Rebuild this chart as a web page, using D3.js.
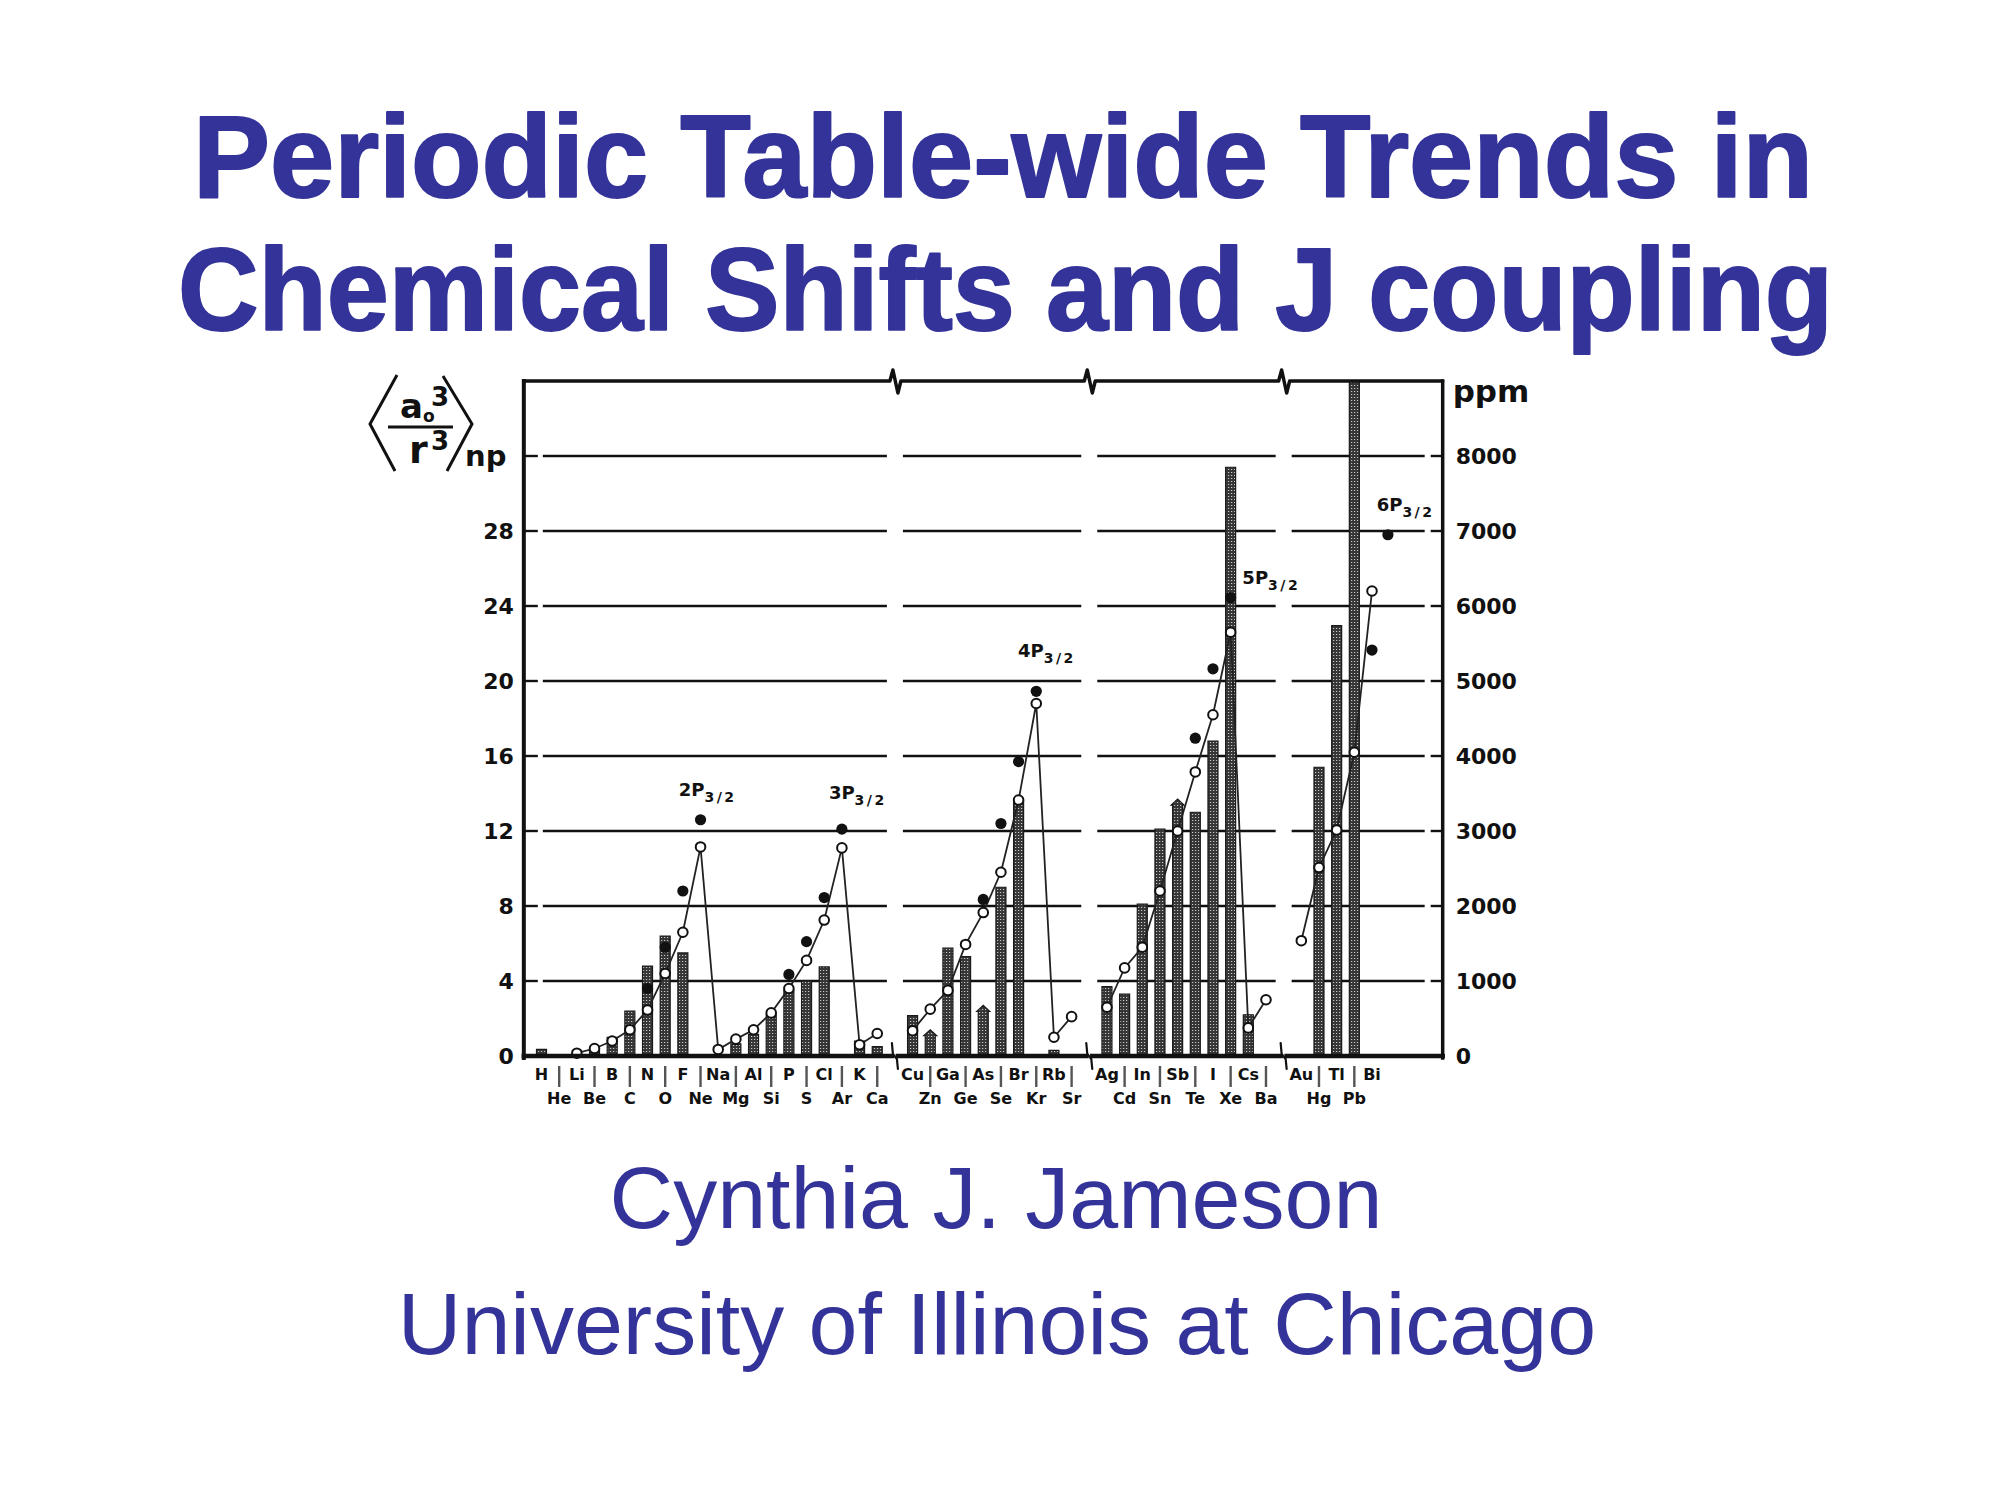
<!DOCTYPE html>
<html><head><meta charset="utf-8">
<script src="https://cdn.jsdelivr.net/npm/d3@7"></script>
<style>body{margin:0;background:#fff;overflow:hidden}</style>
</head><body>
<svg id="c" width="1995" height="1495"></svg>
<script>
// ---------------- data ----------------
const elements = ["H","He","Li","Be","B","C","N","O","F","Ne","Na","Mg","Al","Si","P","S","Cl","Ar","K","Ca",
  "Cu","Zn","Ga","Ge","As","Se","Br","Kr","Rb","Sr",
  "Ag","Cd","In","Sn","Sb","Te","I","Xe","Cs","Ba",
  "Au","Hg","Tl","Pb","Bi"];
const groupStarts = ["H","Cu","Ag","Au"];
// hatched bars (ppm / 250 = left-axis units), null = none
const barValues = [0.35,null,null,0.3,1.0,2.4,4.8,6.4,5.5,null,null,0.65,1.15,2.2,3.5,4.0,4.75,null,0.8,0.5,
  2.15,1.4,5.75,5.3,2.7,9.0,13.6,null,0.3,null,
  3.7,3.3,8.1,12.1,13.7,13.0,16.8,31.4,2.2,null,
  null,15.4,22.95,40,null];
const arrowBars = ["Zn","As","Sb"];
// open circles joined by lines
const openValues = [null,null,0.15,0.4,0.8,1.4,2.45,4.4,6.6,11.15,0.35,0.9,1.4,2.3,3.6,5.1,7.25,11.1,0.6,1.2,
  1.35,2.5,3.5,5.95,7.65,9.8,13.65,18.8,1.0,2.1,
  2.6,4.7,5.8,8.8,12.0,15.15,18.2,22.6,1.5,3.0,
  6.15,10.05,12.05,16.2,24.8];
// filled dots
const filledValues = [null,null,null,null,null,null,3.6,5.8,8.8,12.6,null,null,null,null,4.35,6.1,8.45,12.1,null,null,
  null,null,null,null,8.35,12.4,15.7,19.45,null,null,
  null,null,null,null,null,16.95,20.65,24.45,null,null,
  null,null,null,null,21.65];
const extraFilled = [{after:"Bi", dSlot:0.9, value:27.8}];
const pLabels = [
  {shell:"2", at:"Ne", dSlot:0.4, value:13.85},
  {shell:"3", at:"Ar", dSlot:0.9, value:13.7},
  {shell:"4", at:"Kr", dSlot:0.6, value:21.3},
  {shell:"5", at:"Xe", dSlot:2.3, value:25.2},
  {shell:"6", at:"Bi", dSlot:1.9, value:29.05}
];
const leftTicks = [0,4,8,12,16,20,24,28];
const gridValues = [4,8,12,16,20,24,28,32];
const ppmTicks = [0,1000,2000,3000,4000,5000,6000,7000,8000];

// ------------- layout ----------------
const svg = d3.select("#c");
const blue = "#333399";

const slots = [];
const breakSlots = [];
let s = -1;
elements.forEach((e,i)=>{
  if (groupStarts.includes(e) && i>0){ s += 1; breakSlots.push(s); }
  s += 1; slots.push(s);
});
const slotOf = e => slots[elements.indexOf(e)];
const x = d3.scaleLinear().domain([0,47]).range([541.5,1372]);
const y = d3.scaleLinear().domain([0,36]).range([1056,381]);
const yppm = d3.scaleLinear().domain([0,9000]).range([1056,381]);
const xL = x(-1), xR = x(51), yT = y(36), yB = y(0);

// title
const titleFont = "'Comic Sans MS','Liberation Sans',Arial,sans-serif";
svg.append("text").attr("x",193).attr("y",197)
  .attr("textLength",1620).attr("lengthAdjust","spacingAndGlyphs")
  .style("font-family",titleFont).style("font-weight","bold")
  .style("font-size","116px").attr("fill",blue).attr("stroke",blue).attr("stroke-width",2).attr("stroke-linejoin","round")
  .text("Periodic Table-wide Trends in");
svg.append("text").attr("x",178).attr("y",330)
  .attr("textLength",1655).attr("lengthAdjust","spacingAndGlyphs")
  .style("font-family",titleFont).style("font-weight","bold")
  .style("font-size","116px").attr("fill",blue).attr("stroke",blue).attr("stroke-width",2).attr("stroke-linejoin","round")
  .text("Chemical Shifts and J coupling");
svg.append("text").attr("x",996).attr("y",1228).attr("text-anchor","middle")
  .style("font-family","'Liberation Sans',Arial,sans-serif").style("font-size","88px").attr("fill",blue)
  .text("Cynthia J. Jameson");
svg.append("text").attr("x",997).attr("y",1354).attr("text-anchor","middle")
  .style("font-family","'Liberation Sans',Arial,sans-serif").style("font-size","88px").attr("fill",blue)
  .text("University of Illinois at Chicago");

// pattern for stippled bars
const defs = svg.append("defs");
const pat = defs.append("pattern").attr("id","stip").attr("patternUnits","userSpaceOnUse")
  .attr("width",3).attr("height",3);
pat.append("rect").attr("width",3).attr("height",3).attr("fill","#363636");
pat.append("rect").attr("x",1).attr("y",1).attr("width",1.2).attr("height",1).attr("fill","#c8c8c8");
defs.append("clipPath").attr("id","plotclip").append("rect")
  .attr("x",xL).attr("y",yT).attr("width",xR-xL).attr("height",yB-yT);

const chartFont = "'DejaVu Sans',Verdana,sans-serif";

// gridlines with gaps at breaks and near axes
const g = svg.append("g");
const cuts = [[xL+14,xL+19]].concat(breakSlots.map(b=>[x(b)-8,x(b)+8])).concat([[xR-18,xR-12]]);
gridValues.forEach(v=>{
  let start = xL;
  const segs = [];
  cuts.forEach(c=>{ segs.push([start,c[0]]); start=c[1]; });
  segs.push([start,xR]);
  segs.forEach(sg=>{
    g.append("line").attr("x1",sg[0]).attr("x2",sg[1]).attr("y1",y(v)).attr("y2",y(v))
      .attr("stroke","#111").attr("stroke-width",2.4);
  });
});

// bars
const bw = 10;
const barData = elements.map((e,i)=>({e, slot:slots[i], v:barValues[i]})).filter(d=>d.v!==null);
const barG = svg.append("g").attr("clip-path","url(#plotclip)");
barG.selectAll("path.bar").data(barData).enter().append("path")
  .attr("d", d=>{
    const cx = x(d.slot), top = y(d.v), bot = y(0);
    if (arrowBars.includes(d.e)){
      const ah = 6;
      return `M${cx-bw/2},${bot}L${cx-bw/2},${top+ah}L${cx-bw/2-1.5},${top+ah}L${cx},${top}L${cx+bw/2+1.5},${top+ah}L${cx+bw/2},${top+ah}L${cx+bw/2},${bot}Z`;
    }
    return `M${cx-bw/2},${bot}L${cx-bw/2},${top}L${cx+bw/2},${top}L${cx+bw/2},${bot}Z`;
  })
  .attr("fill","url(#stip)").attr("stroke","#1a1a1a").attr("stroke-width",1.2);

// open circle lines per group
const grpIdx = groupStarts.map(gs=>elements.indexOf(gs));
const openData = elements.map((e,i)=>({e, slot:slots[i], v:openValues[i], grp:d3.bisectRight(grpIdx, i)-1}))
  .filter(d=>d.v!==null);
const line = d3.line().x(d=>x(d.slot)).y(d=>y(d.v));
d3.groups(openData, d=>d.grp).forEach(([k,arr])=>{
  svg.append("path").attr("d",line(arr)).attr("fill","none").attr("stroke","#222").attr("stroke-width",1.8);
});
svg.selectAll("circle.open").data(openData).enter().append("circle")
  .attr("cx",d=>x(d.slot)).attr("cy",d=>y(d.v)).attr("r",4.8)
  .attr("fill","#fff").attr("stroke","#111").attr("stroke-width",2);

// filled dots
const filledData = elements.map((e,i)=>({slot:slots[i], v:filledValues[i]})).filter(d=>d.v!==null)
  .concat(extraFilled.map(d=>({slot:slotOf(d.after)+d.dSlot, v:d.value})));
svg.selectAll("circle.fill").data(filledData).enter().append("circle")
  .attr("cx",d=>x(d.slot)).attr("cy",d=>y(d.v)).attr("r",5.6).attr("fill","#111");

// frame
const fr = svg.append("g").attr("stroke","#111").attr("fill","none").attr("stroke-linecap","square");
fr.append("line").attr("x1",xL).attr("x2",xL).attr("y1",yT).attr("y2",yB+2).attr("stroke-width",4);
fr.append("line").attr("x1",xR).attr("x2",xR).attr("y1",yT).attr("y2",yB+2).attr("stroke-width",3.5);
let tp = `M${xL},${yT}`;
breakSlots.forEach(b=>{
  const bx = x(b);
  tp += `L${bx-5},${yT}L${bx-2},${yT-11}L${bx+3},${yT+12}L${bx+6},${yT}`;
});
tp += `L${xR},${yT}`;
fr.append("path").attr("d",tp).attr("stroke-width",3.5).attr("stroke-linejoin","round").attr("stroke-linecap","round");
let bstart = xL;
breakSlots.forEach(b=>{
  const bx = x(b);
  fr.append("line").attr("x1",bstart).attr("x2",bx-3).attr("y1",yB).attr("y2",yB).attr("stroke-width",4.5);
  fr.append("path").attr("d",`M${bx-3},${yB-13}L${bx-2},${yB-2}L${bx+2},${yB+3}L${bx+3},${yB+13}`)
    .attr("stroke-width",2.2).attr("stroke-linecap","round");
  bstart = bx+3;
});
fr.append("line").attr("x1",bstart).attr("x2",xR).attr("y1",yB).attr("y2",yB).attr("stroke-width",4.5);

// left axis labels
svg.selectAll("text.lt").data(leftTicks).enter().append("text")
  .attr("x",xL-10).attr("y",d=>y(d)+8).attr("text-anchor","end")
  .style("font-family",chartFont).style("font-weight","bold").style("font-size","22px").attr("fill","#111")
  .text(d=>d);
// right axis labels
svg.selectAll("text.rt").data(ppmTicks).enter().append("text")
  .attr("x",xR+13).attr("y",d=>yppm(d)+8)
  .style("font-family",chartFont).style("font-weight","bold").style("font-size","22px").attr("fill","#111")
  .text(d=>d);
svg.append("text").attr("x",xR+10).attr("y",y(34.9))
  .style("font-family",chartFont).style("font-weight","bold").style("font-size","31px").attr("fill","#111")
  .text("ppm");

// left axis title <a0^3 / r^3>np
const lt = svg.append("g").attr("fill","#111").style("font-family",chartFont).style("font-weight","bold");
lt.append("path").attr("d","M397,375L370,424L395,471").attr("stroke","#111").attr("stroke-width",3).attr("fill","none");
lt.append("path").attr("d","M443,376L472,424L447,471").attr("stroke","#111").attr("stroke-width",3).attr("fill","none");
lt.append("line").attr("x1",388).attr("x2",453).attr("y1",427).attr("y2",427).attr("stroke","#111").attr("stroke-width",3);
lt.append("text").attr("x",400).attr("y",418).style("font-size","34px").text("a");
lt.append("text").attr("x",423).attr("y",422).style("font-size","17px").text("o");
lt.append("text").attr("x",431).attr("y",406).style("font-size","26px").text("3");
lt.append("text").attr("x",409).attr("y",463).style("font-size","38px").text("r");
lt.append("text").attr("x",431).attr("y",450).style("font-size","26px").text("3");
lt.append("text").attr("x",465).attr("y",466).style("font-size","29px").text("np");

// element labels
const lab = svg.append("g").style("font-family",chartFont).style("font-weight","bold").attr("fill","#111");
elements.forEach((e,i)=>{
  const grpStart = grpIdx[d3.bisectRight(grpIdx, i)-1];
  const top = (i-grpStart)%2===0;
  const cx = x(slots[i]);
  lab.append("text").attr("x",cx).attr("y", top?1080:1104).attr("text-anchor","middle")
    .style("font-size","16px").text(e);
  if (!top){
    svg.append("line").attr("x1",cx).attr("x2",cx).attr("y1",1066).attr("y2",1087)
      .attr("stroke","#555").attr("stroke-width",2.4);
  }
});

// shell labels nP3/2
pLabels.forEach(p=>{
  const t = svg.append("text").attr("x",x(slotOf(p.at)+p.dSlot)).attr("y",y(p.value)).attr("text-anchor","middle")
    .style("font-family",chartFont).style("font-weight","bold").attr("fill","#111");
  t.append("tspan").style("font-size","18px").text(p.shell+"P");
  t.append("tspan").attr("dy",6).style("font-size","14px").style("letter-spacing","2.5px").text("3/2");
});
</script>
</body></html>
